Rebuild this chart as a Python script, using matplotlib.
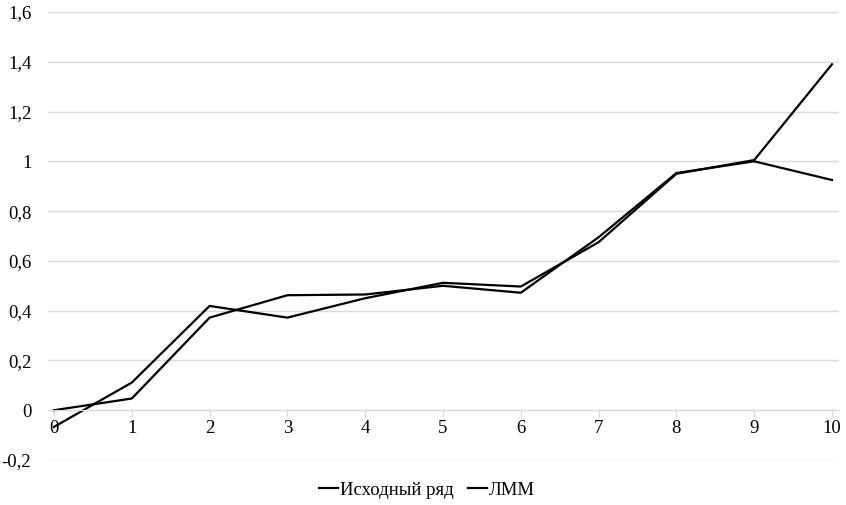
import numpy as np
import matplotlib.pyplot as plt

plt.rcParams['font.family'] = ['Liberation Serif', 'DejaVu Serif']

# данные
x = np.arange(0, 11)
ishodny = [0.0, 0.047, 0.372, 0.462, 0.465, 0.50, 0.472, 0.695, 0.953, 1.0, 0.925]
lmm = [-0.067, 0.111, 0.419, 0.372, 0.45, 0.512, 0.497, 0.675, 0.95, 1.005, 1.39]
yticks = [-0.2, 0, 0.2, 0.4, 0.6, 0.8, 1.0, 1.2, 1.4, 1.6]
ylabels = ['-0,2', '0', '0,2', '0,4', '0,6', '0,8', '1', '1,2', '1,4', '1,6']

fig = plt.figure(figsize=(8.46, 5.05), dpi=100)
ax = fig.add_axes([48/846, 1 - 460/505, (839-48)/846, (460-12)/505])

ax.plot(x, ishodny, color='black', lw=1.6, label='Исходный ряд')
ax.plot(x, lmm, color='black', lw=1.6, label='ЛММ')

ax.set_xlim(-0.077, 10.09)
ax.set_ylim(-0.2, 1.6)
ax.set_yticks(yticks)
ax.set_yticklabels(ylabels)
ax.set_xticks(x)
ax.grid(axis='y', color='#d9d9d9', lw=1)
ax.set_axisbelow(True)

for s in ['top', 'right', 'left']:
    ax.spines[s].set_visible(False)
ax.spines['bottom'].set_position(('data', 0))
ax.spines['bottom'].set_color('#d9d9d9')
ax.tick_params(axis='y', length=0, pad=12, labelsize=13.5)
ax.tick_params(axis='x', length=5, color='#d9d9d9', pad=2, labelsize=13.5)

ax.legend(loc='center', bbox_to_anchor=(0.479, -30/448), ncol=2, frameon=False,
          fontsize=13.5, handlelength=1.0, handletextpad=0.1, columnspacing=0.8,
          borderpad=0)

fig.savefig('out.png', dpi=100, facecolor='white')
